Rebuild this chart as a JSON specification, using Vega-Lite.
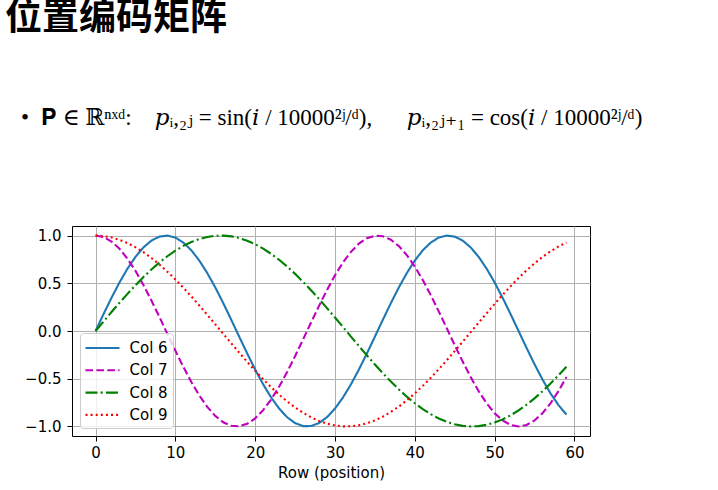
{
  "$schema": "https://vega.github.io/schema/vega-lite/v6.json",
  "autosize": {"type": "none"},
  "padding": {"left": 72, "top": 226, "right": 128, "bottom": 54},
  "width": 518,
  "height": 210,
  "background": "white",
  "title": {
    "text": "位置编码矩阵",
    "subtitle": "\u200b\u2002\u2009•\u2002𝐏 ∈ ℝⁿˣᵈ:\u2002\u2002𝑝ᵢ,₂ⱼ = sin(𝑖 / 10000²ʲ/ᵈ),\u2002\u2002\u2002𝑝ᵢ,₂ⱼ₊₁ = cos(𝑖 / 10000²ʲ/ᵈ)",
    "anchor": "start",
    "frame": "group",
    "orient": "top",
    "dx": -67,
    "offset": 95,
    "font": "Noto Sans CJK SC",
    "fontSize": 37,
    "fontWeight": "bold",
    "color": "black",
    "subtitleFont": "Liberation Serif, DejaVu Serif",
    "subtitleFontSize": 23,
    "subtitleColor": "black",
    "subtitlePadding": 69
  },
  "data": {
    "values": [
      {"row": 0, "Col 6": 0.0, "Col 7": 1.0, "Col 8": 0.0, "Col 9": 1.0},
      {"row": 1, "Col 6": 0.1769, "Col 7": 0.9842, "Col 8": 0.0998, "Col 9": 0.995},
      {"row": 2, "Col 6": 0.3482, "Col 7": 0.9374, "Col 8": 0.1987, "Col 9": 0.9801},
      {"row": 3, "Col 6": 0.5085, "Col 7": 0.861, "Col 8": 0.2955, "Col 9": 0.9553},
      {"row": 4, "Col 6": 0.6528, "Col 7": 0.7575, "Col 8": 0.3894, "Col 9": 0.9211},
      {"row": 5, "Col 6": 0.7765, "Col 7": 0.6301, "Col 8": 0.4794, "Col 9": 0.8776},
      {"row": 6, "Col 6": 0.8757, "Col 7": 0.4828, "Col 8": 0.5646, "Col 9": 0.8253},
      {"row": 7, "Col 6": 0.9473, "Col 7": 0.3203, "Col 8": 0.6442, "Col 9": 0.7648},
      {"row": 8, "Col 6": 0.989, "Col 7": 0.1476, "Col 8": 0.7174, "Col 9": 0.6967},
      {"row": 9, "Col 6": 0.9996, "Col 7": -0.0297, "Col 8": 0.7833, "Col 9": 0.6216},
      {"row": 10, "Col 6": 0.9786, "Col 7": -0.206, "Col 8": 0.8415, "Col 9": 0.5403},
      {"row": 11, "Col 6": 0.9267, "Col 7": -0.3759, "Col 8": 0.8912, "Col 9": 0.4536},
      {"row": 12, "Col 6": 0.8456, "Col 7": -0.5338, "Col 8": 0.932, "Col 9": 0.3624},
      {"row": 13, "Col 6": 0.7378, "Col 7": -0.675, "Col 8": 0.9636, "Col 9": 0.2675},
      {"row": 14, "Col 6": 0.6068, "Col 7": -0.7949, "Col 8": 0.9854, "Col 9": 0.17},
      {"row": 15, "Col 6": 0.4566, "Col 7": -0.8897, "Col 8": 0.9975, "Col 9": 0.0707},
      {"row": 16, "Col 6": 0.292, "Col 7": -0.9564, "Col 8": 0.9996, "Col 9": -0.0292},
      {"row": 17, "Col 6": 0.1182, "Col 7": -0.993, "Col 8": 0.9917, "Col 9": -0.1288},
      {"row": 18, "Col 6": -0.0593, "Col 7": -0.9982, "Col 8": 0.9738, "Col 9": -0.2272},
      {"row": 19, "Col 6": -0.2349, "Col 7": -0.972, "Col 8": 0.9463, "Col 9": -0.3233},
      {"row": 20, "Col 6": -0.4032, "Col 7": -0.9151, "Col 8": 0.9093, "Col 9": -0.4161},
      {"row": 21, "Col 6": -0.5587, "Col 7": -0.8294, "Col 8": 0.8632, "Col 9": -0.5048},
      {"row": 22, "Col 6": -0.6966, "Col 7": -0.7175, "Col 8": 0.8085, "Col 9": -0.5885},
      {"row": 23, "Col 6": -0.8125, "Col 7": -0.5829, "Col 8": 0.7457, "Col 9": -0.6663},
      {"row": 24, "Col 6": -0.9028, "Col 7": -0.43, "Col 8": 0.6755, "Col 9": -0.7374},
      {"row": 25, "Col 6": -0.9647, "Col 7": -0.2635, "Col 8": 0.5985, "Col 9": -0.8011},
      {"row": 26, "Col 6": -0.9961, "Col 7": -0.0887, "Col 8": 0.5155, "Col 9": -0.8569},
      {"row": 27, "Col 6": -0.996, "Col 7": 0.0889, "Col 8": 0.4274, "Col 9": -0.9041},
      {"row": 28, "Col 6": -0.9646, "Col 7": 0.2636, "Col 8": 0.335, "Col 9": -0.9422},
      {"row": 29, "Col 6": -0.9028, "Col 7": 0.4301, "Col 8": 0.2393, "Col 9": -0.971},
      {"row": 30, "Col 6": -0.8125, "Col 7": 0.583, "Col 8": 0.1411, "Col 9": -0.99},
      {"row": 31, "Col 6": -0.6965, "Col 7": 0.7176, "Col 8": 0.0416, "Col 9": -0.9991},
      {"row": 32, "Col 6": -0.5586, "Col 7": 0.8294, "Col 8": -0.0584, "Col 9": -0.9983},
      {"row": 33, "Col 6": -0.4031, "Col 7": 0.9152, "Col 8": -0.1577, "Col 9": -0.9875},
      {"row": 34, "Col 6": -0.2348, "Col 7": 0.972, "Col 8": -0.2555, "Col 9": -0.9668},
      {"row": 35, "Col 6": -0.0592, "Col 7": 0.9982, "Col 8": -0.3508, "Col 9": -0.9365},
      {"row": 36, "Col 6": 0.1183, "Col 7": 0.993, "Col 8": -0.4425, "Col 9": -0.8968},
      {"row": 37, "Col 6": 0.2921, "Col 7": 0.9564, "Col 8": -0.5298, "Col 9": -0.8481},
      {"row": 38, "Col 6": 0.4567, "Col 7": 0.8896, "Col 8": -0.6119, "Col 9": -0.791},
      {"row": 39, "Col 6": 0.6069, "Col 7": 0.7948, "Col 8": -0.6878, "Col 9": -0.7259},
      {"row": 40, "Col 6": 0.7379, "Col 7": 0.6749, "Col 8": -0.7568, "Col 9": -0.6536},
      {"row": 41, "Col 6": 0.8456, "Col 7": 0.5338, "Col 8": -0.8183, "Col 9": -0.5748},
      {"row": 42, "Col 6": 0.9267, "Col 7": 0.3758, "Col 8": -0.8716, "Col 9": -0.4903},
      {"row": 43, "Col 6": 0.9786, "Col 7": 0.2059, "Col 8": -0.9162, "Col 9": -0.4008},
      {"row": 44, "Col 6": 0.9996, "Col 7": 0.0296, "Col 8": -0.9516, "Col 9": -0.3073},
      {"row": 45, "Col 6": 0.989, "Col 7": -0.1477, "Col 8": -0.9775, "Col 9": -0.2108},
      {"row": 46, "Col 6": 0.9473, "Col 7": -0.3204, "Col 8": -0.9937, "Col 9": -0.1122},
      {"row": 47, "Col 6": 0.8757, "Col 7": -0.4829, "Col 8": -0.9999, "Col 9": -0.0124},
      {"row": 48, "Col 6": 0.7765, "Col 7": -0.6302, "Col 8": -0.9962, "Col 9": 0.0875},
      {"row": 49, "Col 6": 0.6528, "Col 7": -0.7576, "Col 8": -0.9825, "Col 9": 0.1865},
      {"row": 50, "Col 6": 0.5085, "Col 7": -0.8611, "Col 8": -0.9589, "Col 9": 0.2837},
      {"row": 51, "Col 6": 0.3481, "Col 7": -0.9375, "Col 8": -0.9258, "Col 9": 0.378},
      {"row": 52, "Col 6": 0.1768, "Col 7": -0.9843, "Col 8": -0.8835, "Col 9": 0.4685},
      {"row": 53, "Col 6": -0.0001, "Col 7": -1.0, "Col 8": -0.8323, "Col 9": 0.5544},
      {"row": 54, "Col 6": -0.177, "Col 7": -0.9842, "Col 8": -0.7728, "Col 9": 0.6347},
      {"row": 55, "Col 6": -0.3483, "Col 7": -0.9374, "Col 8": -0.7055, "Col 9": 0.7087},
      {"row": 56, "Col 6": -0.5086, "Col 7": -0.861, "Col 8": -0.6313, "Col 9": 0.7756},
      {"row": 57, "Col 6": -0.6529, "Col 7": -0.7574, "Col 8": -0.5507, "Col 9": 0.8347},
      {"row": 58, "Col 6": -0.7766, "Col 7": -0.63, "Col 8": -0.4646, "Col 9": 0.8855},
      {"row": 59, "Col 6": -0.8758, "Col 7": -0.4827, "Col 8": -0.3739, "Col 9": 0.9275}
    ]
  },
  "transform": [
    {"fold": ["Col 6", "Col 7", "Col 8", "Col 9"], "as": ["series", "value"]}
  ],
  "mark": {"type": "line", "strokeWidth": 2.1, "clip": true},
  "encoding": {
    "x": {
      "field": "row",
      "type": "quantitative",
      "scale": {"domain": [-2.95, 61.95], "nice": false, "zero": false},
      "axis": {"values": [0, 10, 20, 30, 40, 50, 60], "format": "d", "title": "Row (position)", "titlePadding": 5, "labelPadding": 4}
    },
    "y": {
      "field": "value",
      "type": "quantitative",
      "scale": {"domain": [-1.1, 1.1], "nice": false, "zero": false},
      "axis": {"values": [-1, -0.5, 0, 0.5, 1], "format": ".1f", "title": null, "labelPadding": 6}
    },
    "color": {
      "field": "series",
      "type": "nominal",
      "scale": {"domain": ["Col 6", "Col 7", "Col 8", "Col 9"], "range": ["#1f77b4", "#bf00bf", "#008000", "#ff0000"]},
      "legend": {"title": null}
    },
    "strokeDash": {
      "field": "series",
      "type": "nominal",
      "scale": {"domain": ["Col 6", "Col 7", "Col 8", "Col 9"], "range": [[1, 0], [7.6, 3.3], [12, 3.2, 2, 3.2], [2, 3.1]]},
      "legend": {"title": null}
    }
  },
  "config": {
    "view": {"stroke": "black", "strokeWidth": 1},
    "axis": {
      "domain": false,
      "ticks": true,
      "tickColor": "black",
      "tickSize": 5,
      "labelFont": "DejaVu Sans",
      "labelFontSize": 15,
      "labelColor": "black",
      "grid": true,
      "gridColor": "#b0b0b0",
      "gridWidth": 1,
      "titleFont": "DejaVu Sans",
      "titleFontSize": 15,
      "titleFontWeight": "normal",
      "titleColor": "black"
    },
    "legend": {
      "orient": "bottom-left",
      "offset": 8,
      "symbolType": "M-2,0H2",
      "symbolSize": 289,
      "symbolStrokeWidth": 2.1,
      "symbolOffset": 7.5,
      "labelFont": "DejaVu Sans",
      "labelFontSize": 15,
      "labelColor": "black",
      "labelOffset": 17,
      "labelExpr": "datum.label + '\u2009\u200b'",
      "rowPadding": 4.3,
      "padding": 5,
      "fillColor": "rgba(255,255,255,0.8)",
      "strokeColor": "#cccccc",
      "cornerRadius": 3
    }
  }
}
